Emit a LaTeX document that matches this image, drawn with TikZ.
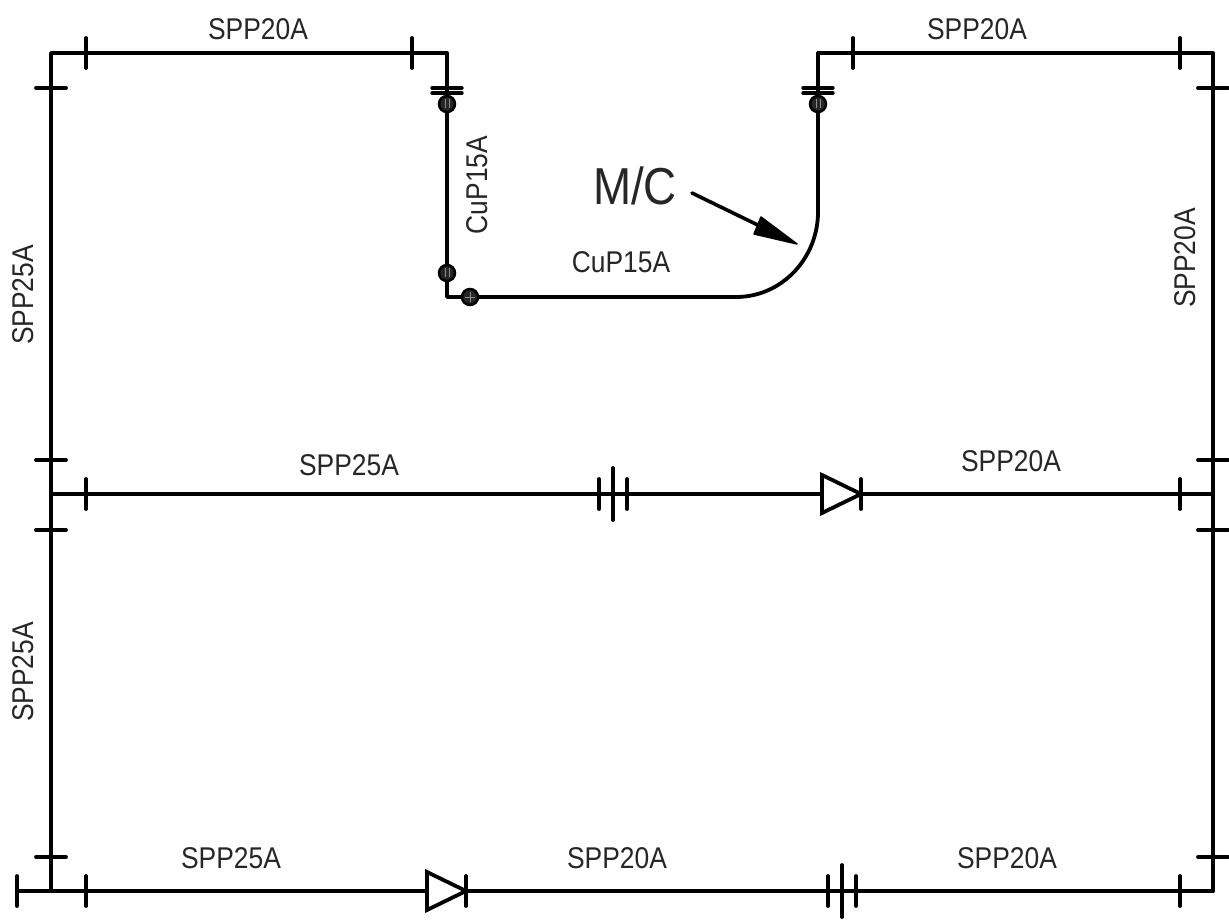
\documentclass[tikz,border=0pt]{standalone}
\usepackage{fontspec}
\setmainfont[FakeStretch=0.88]{Liberation Sans}
\tikzset{
  pipe/.style={line width=3.8pt,line cap=round,line join=round,black},
  mark tick/.style={line width=3.8pt,line cap=round,black},
  lbl/.style={inner sep=0pt,font=\fontsize{30}{30}\selectfont,text=black!85},
  joint/.style={circle,draw=black,fill=black!85,line width=2.5pt,minimum size=16pt,inner sep=0pt},
  flange/.style={line width=3.4pt,line cap=round,black},
}
\newcommand{\vtick}[3]{\draw[mark tick] (#1,#2-#3) -- (#1,#2+#3);}
\newcommand{\htick}[2]{\draw[mark tick] (#1-15,#2) -- (#1+15,#2);}
\newcommand{\diodesym}[2]{%
  \draw[pipe,line join=miter,fill=white] (#1-39,#2-19) -- (#1-39,#2+19) -- (#1,#2) -- cycle;
  \vtick{#1}{#2}{15}}
\newcommand{\batsym}[2]{%
  \vtick{#1-14}{#2}{15}\vtick{#1}{#2}{26}\vtick{#1+14}{#2}{15}}
\begin{document}
\begin{tikzpicture}[x=1pt,y=-1pt]
\useasboundingbox (0,0) rectangle (1229,920);
\coordinate (tl) at (51,53);
\coordinate (tm1) at (447,53);
\coordinate (tm2) at (818,53);
\coordinate (tr) at (1213,53);
\coordinate (ml) at (51,494);
\coordinate (mr) at (1213,494);
\coordinate (dm) at (822,494);
\coordinate (dmk) at (861,494);
\coordinate (bs) at (17,891);
\coordinate (bl) at (51,891);
\coordinate (br) at (1213,891);
\coordinate (db) at (427,891);
\coordinate (dbk) at (466,891);
\coordinate (cu1) at (447,297);
\coordinate (cu2) at (736,297);
\coordinate (cu3) at (818,212);
% pipes
\draw[pipe] (tm1) -- (tl) -- (bl);
\draw[pipe] (tm2) -- (tr) -- (br);
\draw[pipe] (ml) -- (dm);
\draw[pipe] (dmk) -- (mr);
\draw[pipe] (bs) -- (db);
\draw[pipe] (dbk) -- (br);
\draw[pipe] (tm1) -- (cu1) -- (cu2) .. controls (782,297) and (818,258) .. (cu3) -- (tm2);
% ticks
\vtick{86}{53}{15}\vtick{412}{53}{15}\vtick{853}{53}{15}\vtick{1180}{53}{15}
\htick{51}{88}\htick{51}{460}\htick{51}{530}\htick{51}{857}
\htick{1213}{88}\htick{1213}{460}\htick{1213}{530}\htick{1213}{857}
\vtick{86}{494}{15}\vtick{1180}{494}{15}
\vtick{17}{891}{15}\vtick{86}{891}{15}\vtick{1180}{891}{15}
% fittings
\foreach \x in {447,818}{
  \draw[flange] (\x-15,88) -- (\x+15,88);
  \draw[flange] (\x-15,93) -- (\x+15,93);
}
\node[joint] (j1) at (447,104) {};
\node[joint] (j2) at (818,104) {};
\node[joint] (j3) at (447,273) {};
\node[joint] (j4) at (470,297) {};
\foreach \n in {j1,j2,j3}{\draw[black!45,line width=.8pt] (\n.north) ++(-2,4) -- ++(0,9) ++(4,-9) -- ++(0,9);}
\draw[black!45,line width=.8pt] (j4.center) ++(-5,0) -- ++(10,0) ++(-5,-5) -- ++(0,10);
% symbols
\batsym{613}{494}
\diodesym{861}{494}
\diodesym{466}{891}
\batsym{842}{891}
% arrow
\coordinate (a0) at (692,193);
\coordinate (a1) at (797,244);
\draw[line width=3.6pt,line cap=round] (a0) -- (768,230);
\fill[line join=round,draw=black,line width=1.5pt] (a1) -- (761,217) -- (754,234) -- cycle;
% labels
\node[lbl] (t1) at (258,29) {SPP20A};
\node[lbl] (t2) at (977,29) {SPP20A};
\node[lbl] (t3) at (349,465) {SPP25A};
\node[lbl] (t4) at (1011,461) {SPP20A};
\node[lbl] (t5) at (231,858) {SPP25A};
\node[lbl] (t6) at (617,858) {SPP20A};
\node[lbl] (t7) at (1007,858) {SPP20A};
\node[lbl,rotate=90] (t8) at (23,295) {SPP25A};
\node[lbl,rotate=90] (t9) at (23,672) {SPP25A};
\node[lbl,rotate=90] (t10) at (1185,258) {SPP20A};
\node[lbl,rotate=90] (t11) at (477,185) {CuP15A};
\node[lbl] (t12) at (621,262) {CuP15A};
\node[lbl,font=\fontsize{52}{52}\selectfont] (t13) at (635,186) {M/C};
\end{tikzpicture}
\end{document}
